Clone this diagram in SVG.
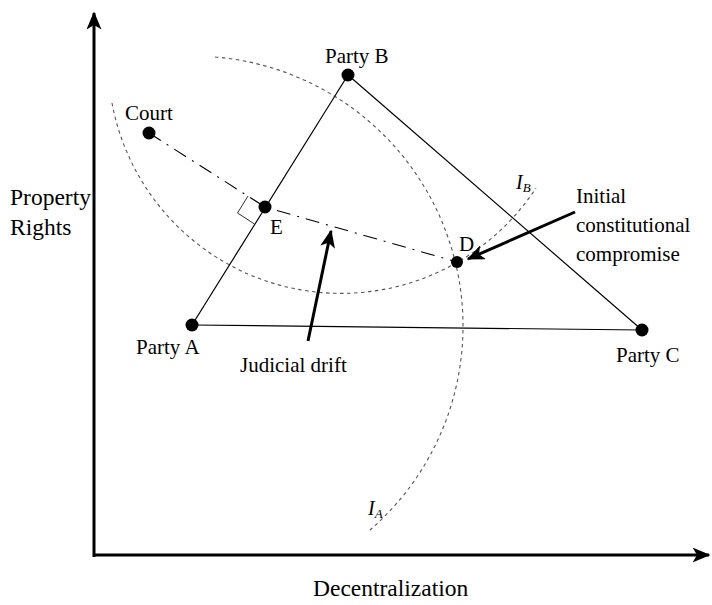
<svg xmlns="http://www.w3.org/2000/svg" width="712" height="605" viewBox="0 0 712 605">
<style>
text{font-family:"Liberation Serif","Times New Roman",serif;fill:#000}
.lbl{font-size:21px}
.ax{font-size:23.5px}
.tri{stroke:#000;stroke-width:1.2;fill:none}
.dot{fill:#000}
.ic{stroke:#555;stroke-width:1.1;fill:none;stroke-dasharray:3.5,3.5}
.dd{stroke:#000;stroke-width:1.1;fill:none;stroke-dasharray:14,7,2,7}
.thick{stroke:#000;stroke-width:3;fill:none}
.iv{font-size:20px;font-style:italic}
.sub{font-size:13px;font-style:italic}
</style>
<defs>
<marker id="ah" viewBox="0 0 12 10" refX="11" refY="5" markerWidth="6" markerHeight="5" orient="auto" markerUnits="strokeWidth">
<path d="M0,0 L12,5 L0,10 L3,5 z" fill="#000"/>
</marker>
</defs>
<g id="axes">
<line class="thick" x1="94" y1="557" x2="94" y2="13" marker-end="url(#ah)"/>
<line class="thick" x1="93" y1="555" x2="709" y2="555" marker-end="url(#ah)"/>
<text class="ax" x="10" y="205">Property</text>
<text class="ax" x="10" y="235">Rights</text>
<text class="ax" x="313" y="596">Decentralization</text>
</g>
<g id="curves">
<path class="ic" d="M215,57 A270,270 0 0 1 370,530"/>
<path class="ic" d="M112,103 A233,233 0 0 0 536,188"/>
<text class="iv" x="368" y="515">I<tspan class="sub" dy="3">A</tspan></text>
<text class="iv" x="516" y="189">I<tspan class="sub" dy="3">B</tspan></text>
</g>
<g id="connectors">
<line class="tri" x1="192" y1="325" x2="348" y2="75"/>
<line class="tri" x1="348" y1="75" x2="642" y2="330"/>
<line class="tri" x1="192" y1="325" x2="642" y2="330"/>
<polyline class="dd" points="149,133 265,207 457,262"/>
<path d="M248,196 L237.5,213 L254.5,224" stroke="#333" stroke-width="1" fill="none"/>
<line class="thick" x1="308" y1="341" x2="331" y2="231" marker-end="url(#ah)"/>
<line class="thick" x1="575" y1="212" x2="468" y2="259" marker-end="url(#ah)"/>
</g>
<g id="partyA"><circle class="dot" cx="192" cy="325" r="6.5"/><text class="lbl" x="136" y="354">Party A</text></g>
<g id="partyB"><circle class="dot" cx="348" cy="75" r="6.5"/><text class="lbl" x="325" y="63">Party B</text></g>
<g id="partyC"><circle class="dot" cx="642" cy="330" r="6.5"/><text class="lbl" x="616" y="362">Party C</text></g>
<g id="court"><circle class="dot" cx="149" cy="133" r="6.5"/><text class="lbl" x="125" y="120">Court</text></g>
<g id="E"><circle class="dot" cx="265" cy="207" r="6.5"/><text class="lbl" x="270" y="234">E</text></g>
<g id="D"><circle class="dot" cx="457" cy="262" r="6"/><text class="lbl" x="459" y="251">D</text></g>
<g id="judicial"><text class="lbl" x="240" y="372">Judicial drift</text></g>
<g id="initial">
<text class="lbl" x="576" y="203">Initial</text>
<text class="lbl" x="576" y="232">constitutional</text>
<text class="lbl" x="576" y="261">compromise</text>
</g>
</svg>
